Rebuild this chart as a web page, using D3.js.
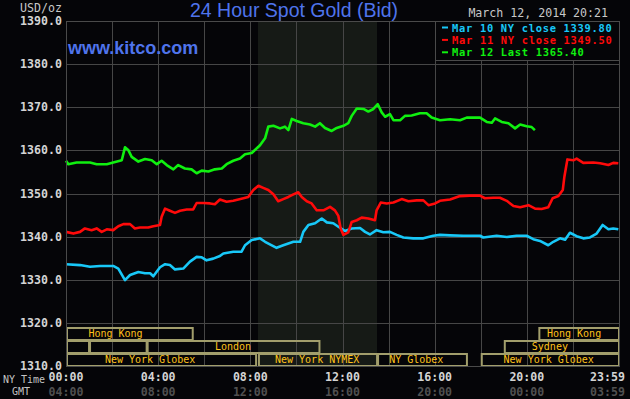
<!DOCTYPE html>
<html>
<head>
<meta charset="utf-8">
<script src="https://cdn.jsdelivr.net/npm/d3@7"></script>
<style>
  body { margin: 0; background: #050508; }
  svg { display: block; }
</style>
</head>
<body>
<svg id="chart"></svg>
<script>
// prices: [hour of NY day, USD/oz]
const mar10 = [[0,1333.6],[0.61,1333.4],[1.04,1333.0],[1.48,1333.2],[2.05,1333.2],[2.27,1332.6],[2.56,1329.9],[2.78,1331.1],[3.14,1331.8],[3.43,1331.5],[3.65,1331.5],[3.79,1330.8],[4.08,1332.9],[4.3,1333.6],[4.51,1333.4],[4.73,1332.4],[5.09,1332.6],[5.38,1334.2],[5.67,1335.3],[5.89,1335.2],[6.1,1334.5],[6.39,1334.9],[6.68,1335.5],[6.83,1336.1],[7.26,1336.5],[7.62,1336.5],[7.77,1338.0],[8.06,1339.2],[8.42,1339.6],[8.64,1338.8],[9.14,1337.4],[9.43,1338.0],[9.87,1338.8],[10.16,1338.8],[10.3,1341.1],[10.52,1342.7],[10.81,1343.1],[11.1,1344.2],[11.32,1343.3],[11.6,1343.1],[11.82,1342.3],[12.11,1341.3],[12.4,1341.9],[12.76,1342.0],[12.98,1341.1],[13.19,1340.5],[13.48,1341.5],[13.77,1341.0],[14.06,1341.1],[14.35,1340.4],[14.64,1339.8],[15.07,1339.6],[15.51,1339.6],[15.94,1340.2],[16.23,1340.4],[16.67,1340.3],[17.24,1340.2],[17.97,1340.2],[18.11,1339.8],[18.69,1340.2],[19.13,1339.9],[19.56,1340.2],[19.99,1340.2],[20.28,1339.4],[20.57,1339.0],[20.93,1338.0],[21.15,1338.8],[21.44,1339.6],[21.66,1339.3],[21.87,1340.9],[22.16,1340.1],[22.45,1339.6],[22.74,1339.8],[23.03,1340.7],[23.29,1342.7],[23.54,1341.7],[23.75,1341.9],[23.97,1341.7]];

const mar11 = [[0,1341.1],[0.32,1340.7],[0.61,1341.1],[0.82,1341.9],[1.11,1341.5],[1.33,1341.9],[1.55,1341.1],[1.77,1341.7],[2.05,1341.5],[2.27,1342.4],[2.49,1342.9],[2.78,1342.9],[2.99,1341.9],[3.21,1342.1],[3.57,1342.1],[3.79,1342.4],[4.08,1342.7],[4.15,1344.6],[4.3,1346.5],[4.51,1346.0],[4.73,1345.5],[4.95,1346.0],[5.24,1346.3],[5.52,1346.3],[5.67,1347.8],[5.96,1347.8],[6.25,1347.7],[6.46,1347.5],[6.68,1348.6],[6.97,1348.1],[7.26,1348.3],[7.48,1348.6],[7.7,1348.9],[7.91,1349.2],[8.13,1350.8],[8.35,1351.8],[8.56,1351.3],[8.78,1350.8],[9.0,1349.8],[9.21,1348.2],[9.43,1348.7],[9.65,1349.2],[9.87,1349.8],[10.08,1350.3],[10.23,1349.2],[10.45,1348.2],[10.66,1347.7],[10.88,1346.1],[11.17,1346.1],[11.46,1346.9],[11.67,1346.1],[11.82,1344.8],[11.92,1341.9],[12.04,1340.4],[12.25,1341.0],[12.4,1343.4],[12.62,1343.8],[12.83,1344.4],[13.12,1344.2],[13.41,1343.8],[13.48,1346.1],[13.66,1347.9],[13.92,1347.7],[14.21,1347.9],[14.57,1348.7],[14.86,1348.2],[15.22,1348.4],[15.51,1348.4],[15.73,1347.3],[16.02,1347.7],[16.23,1348.3],[16.67,1348.6],[17.1,1349.4],[17.53,1349.5],[17.97,1349.5],[18.18,1348.9],[18.54,1349.0],[18.83,1349.0],[19.13,1348.3],[19.42,1347.1],[19.71,1346.8],[20.07,1347.3],[20.36,1346.5],[20.64,1346.4],[20.93,1346.8],[21.12,1348.9],[21.37,1349.4],[21.56,1350.8],[21.63,1353.9],[21.76,1357.9],[22.02,1357.7],[22.16,1358.1],[22.45,1357.1],[22.89,1357.2],[23.18,1357.0],[23.54,1356.6],[23.75,1357.1],[23.97,1357.0]];

const mar12 = [[0,1357.6],[0.1,1356.8],[0.46,1357.2],[1.04,1357.2],[1.33,1356.8],[1.77,1356.8],[2.05,1357.2],[2.42,1357.7],[2.56,1360.7],[2.7,1360.1],[2.85,1358.5],[3.14,1357.4],[3.43,1358.0],[3.72,1357.7],[3.94,1356.8],[4.15,1357.6],[4.37,1356.6],[4.66,1355.6],[4.87,1356.6],[5.16,1355.8],[5.45,1355.6],[5.67,1354.7],[5.89,1355.3],[6.18,1355.1],[6.46,1355.6],[6.76,1355.8],[6.97,1356.8],[7.26,1357.6],[7.55,1358.1],[7.77,1359.1],[8.06,1359.4],[8.2,1360.1],[8.42,1361.2],[8.64,1362.8],[8.78,1365.5],[9.0,1365.7],[9.29,1365.1],[9.5,1365.5],[9.65,1364.7],[9.8,1367.3],[10.01,1366.8],[10.3,1366.3],[10.59,1366.0],[10.81,1365.5],[11.02,1366.3],[11.24,1365.2],[11.53,1364.5],[11.75,1365.2],[12.04,1365.7],[12.25,1366.3],[12.4,1368.0],[12.62,1369.7],[12.91,1369.6],[13.12,1369.0],[13.34,1369.6],[13.53,1370.7],[13.7,1368.8],[13.85,1367.8],[14.06,1368.4],[14.21,1367.0],[14.5,1367.0],[14.71,1368.0],[15.0,1368.1],[15.36,1368.6],[15.65,1368.6],[15.87,1367.6],[16.23,1367.0],[16.67,1367.2],[17.1,1367.0],[17.39,1367.6],[17.97,1367.6],[18.26,1366.6],[18.48,1366.4],[18.62,1367.4],[18.91,1366.6],[19.2,1366.3],[19.49,1365.1],[19.71,1366.0],[19.99,1365.6],[20.21,1365.4],[20.35,1364.7]];

const seriesNames = ['Mar 10 NY close 1339.80', 'Mar 11 NY close 1349.50', 'Mar 12 Last 1365.40'];
const seriesColors = ['#18c8f8', '#ff0a0a', '#10f010'];

const yTicks = [1310, 1320, 1330, 1340, 1350, 1360, 1370, 1380, 1390];
const xTickHours = [0, 4, 8, 12, 16, 20, 24];
const nyLabels = ['00:00', '04:00', '08:00', '12:00', '16:00', '20:00', '23:59'];
const gmtLabels = ['04:00', '08:00', '12:00', '16:00', '20:00', '00:00', '03:59'];

// trading sessions (hours, NY time); row 0 = top strip
const sessionNames  = ['Hong Kong', 'Hong Kong', '', '', 'London', 'Sydney', 'New York Globex', 'New York NYMEX', 'NY Globex', 'New York Globex'];
const sessionStarts = [0, 20.5, 0, 1, 3.5, 19, 0, 8.33, 13.5, 18];
const sessionEnds   = [5.5, 24, 1, 3.5, 11, 24, 8.25, 13.5, 17.4, 24];
const sessionRows   = [0, 0, 1, 1, 1, 1, 2, 2, 2, 2];
const sessionLabelAt = [2.15, 22.05, 0.5, 2.25, 7.25, 21.0, 3.65, 10.9, 15.2, 20.95];
const nymexHours = [8.33, 13.5];

const W = 630, H = 399;
const mono = '"DejaVu Sans Mono", "Liberation Mono", monospace';

const svg = d3.select('#chart').attr('width', W).attr('height', H);
svg.append('rect').attr('width', W).attr('height', H).attr('fill', '#050508');

const x = d3.scaleLinear().domain([0, 24]).range([66, 619]);
const y = d3.scaleLinear().domain([1310, 1390]).range([366, 21]);
const row = d3.scaleBand().domain([0, 1, 2]).range([327, 366]);
const crisp = v => Math.round(v) + 0.5;

// NYMEX shaded background
svg.append('rect')
  .attr('x', x(nymexHours[0])).attr('y', y(1390))
  .attr('width', x(nymexHours[1]) - x(nymexHours[0]))
  .attr('height', y(1310) - y(1390))
  .attr('fill', '#161a16');

// grid
const grid = svg.append('g').attr('stroke', '#464646').attr('stroke-width', 1);
grid.selectAll('line.v').data(d3.range(0, 25, 2)).join('line')
  .attr('class', 'v')
  .attr('x1', d => crisp(x(d))).attr('x2', d => crisp(x(d)))
  .attr('y1', y(1390)).attr('y2', y(1310));
grid.selectAll('line.h').data(yTicks).join('line')
  .attr('class', 'h')
  .attr('x1', x(0)).attr('x2', x(24))
  .attr('y1', d => crisp(y(d))).attr('y2', d => crisp(y(d)));

// session strips
const sessions = sessionNames.map((n, i) => ({
  name: n, start: sessionStarts[i], end: sessionEnds[i], row: sessionRows[i], at: sessionLabelAt[i]
}));
const sg = svg.append('g');
sg.selectAll('rect').data(sessions).join('rect')
  .attr('x', d => x(d.start) + 1).attr('y', d => row(d.row) + 1)
  .attr('width', d => x(d.end) - x(d.start) - 1)
  .attr('height', row.bandwidth() - 1)
  .attr('fill', 'none').attr('stroke', '#a29e6c').attr('stroke-width', 2);
sg.selectAll('text').data(sessions.filter(d => d.name)).join('text')
  .attr('x', d => x(d.at)).attr('y', d => row(d.row) + 10)
  .attr('text-anchor', 'middle')
  .attr('font-family', mono).attr('font-size', '10px')
  .attr('fill', '#ffc21a')
  .text(d => d.name);

// price lines
const line = d3.line().x(d => x(d[0])).y(d => y(d[1]));
[mar10, mar11, mar12].forEach((s, i) => {
  svg.append('path').datum(s)
    .attr('d', line)
    .attr('fill', 'none')
    .attr('stroke', seriesColors[i])
    .attr('stroke-width', 2.6)
    .attr('stroke-linejoin', 'round');
});

// plot border
svg.append('rect')
  .attr('x', crisp(x(0))).attr('y', crisp(y(1390)))
  .attr('width', Math.round(x(24) - x(0))).attr('height', Math.round(y(1310) - y(1390)))
  .attr('fill', 'none').attr('stroke', '#4a4a4a');

// legend box
const lx = crisp(x(16)), ly = crisp(y(1390));
svg.append('rect')
  .attr('x', lx).attr('y', ly).attr('width', crisp(x(24)) - lx).attr('height', 39)
  .attr('fill', '#050508').attr('stroke', '#4a4a4a');
const lg = svg.append('g');
seriesNames.forEach((n, i) => {
  const by = 31.5 + i * 12.4;
  lg.append('line')
    .attr('x1', 442).attr('x2', 448)
    .attr('y1', by - 4).attr('y2', by - 4)
    .attr('stroke', seriesColors[i]).attr('stroke-width', 2);
  lg.append('text')
    .attr('x', 452).attr('y', by)
    .attr('font-family', mono).attr('font-size', '10.4px').attr('font-weight', 'bold')
    .attr('letter-spacing', '0.72px')
    .attr('fill', seriesColors[i])
    .text(n);
});

// y axis labels
svg.append('g').selectAll('text').data(yTicks).join('text')
  .attr('x', 62).attr('y', d => y(d) + 4)
  .attr('text-anchor', 'end')
  .attr('font-family', mono).attr('font-size', '11.6px').attr('font-weight', 'bold')
  .attr('fill', '#d4d4d4')
  .text(d => d3.format('.1f')(d));

// x axis labels: NY time and GMT
const xl = svg.append('g').attr('font-family', mono).attr('font-size', '11.6px').attr('font-weight', 'bold');
xl.selectAll('text.ny').data(xTickHours).join('text')
  .attr('class', 'ny')
  .attr('x', (d, i) => i === xTickHours.length - 1 ? 625 : x(d))
  .attr('y', 381)
  .attr('text-anchor', (d, i) => i === xTickHours.length - 1 ? 'end' : 'middle')
  .attr('fill', '#d4d4d4')
  .text((d, i) => nyLabels[i]);
xl.selectAll('text.gmt').data(xTickHours).join('text')
  .attr('class', 'gmt')
  .attr('x', (d, i) => i === xTickHours.length - 1 ? 625 : x(d))
  .attr('y', 396)
  .attr('text-anchor', (d, i) => i === xTickHours.length - 1 ? 'end' : 'middle')
  .attr('fill', '#505050')
  .text((d, i) => gmtLabels[i]);

svg.append('text').attr('x', 3).attr('y', 383)
  .attr('font-family', mono).attr('font-size', '10px').attr('fill', '#c4c4c4')
  .text('NY Time');
svg.append('text').attr('x', 12).attr('y', 395)
  .attr('font-family', mono).attr('font-size', '10px').attr('fill', '#c4c4c4')
  .text('GMT');

// titles
svg.append('text').attr('x', 62).attr('y', 12)
  .attr('text-anchor', 'end')
  .attr('font-family', mono).attr('font-size', '11.6px').attr('fill', '#c8c8c8')
  .text('USD/oz');
svg.append('text').attr('x', 190).attr('y', 17)
  .attr('font-family', '"Liberation Sans", Arial, sans-serif').attr('font-size', '19.5px')
  .attr('fill', '#4f74ec')
  .text('24 Hour Spot Gold (Bid)');
svg.append('text').attr('x', 68).attr('y', 54)
  .attr('font-family', '"Liberation Sans", Arial, sans-serif').attr('font-size', '18px').attr('font-weight', 'bold')
  .attr('fill', '#4f74ec')
  .text('www.kitco.com');
svg.append('text').attr('x', 608).attr('y', 17)
  .attr('text-anchor', 'end')
  .attr('font-family', mono).attr('font-size', '11.6px').attr('fill', '#c8c8c8')
  .text('March 12, 2014 20:21');
</script>
</body>
</html>
